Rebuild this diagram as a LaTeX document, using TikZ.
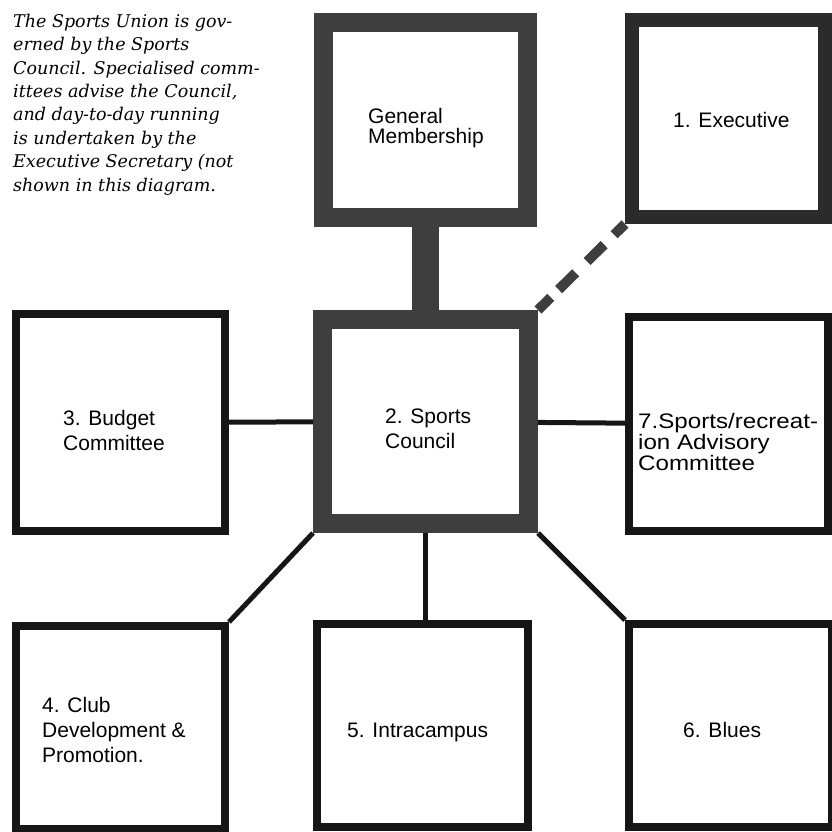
\documentclass[tikz,border=0pt]{standalone}
\usepackage{fontspec}
\usepackage{tikz}
\usepackage{xcolor}
\usetikzlibrary{positioning, calc}
\newfontfamily\boxfont{Liberation Sans}
\newfontfamily\widefont[FakeStretch=1.15]{Liberation Sans}
\newfontfamily\notefont{DejaVu Serif}
\definecolor{cInk}{RGB}{22,22,22}
\definecolor{cGrit}{RGB}{62,62,62}
\tikzset{
	unit/.style   ={rectangle, draw=cInk, line width=8pt, inner sep=0pt},
	heavy/.style  ={unit, draw=cGrit, line width=19pt},
	execbox/.style={unit, draw=cGrit!70!black, line width=14pt},
	txt/.style    ={anchor=base west, inner sep=0pt, align=left, font=\boxfont\fontsize{21}{25}\selectfont},
	tight/.style  ={font=\boxfont\fontsize{21}{20}\selectfont},
	link/.style   ={draw=cInk, line width=5pt},
	trunk/.style  ={draw=cGrit, line width=27pt},
	gap/.style    ={draw=cGrit, line width=10pt, dash pattern=on 18pt off 11pt on 24pt off 16pt on 24pt off 14pt on 20pt},
}

\begin{document}
\begin{tikzpicture}[x=1pt, y=-1pt]
	\useasboundingbox (0,0) rectangle (832,831);
	% note (base = last line)
	\node[anchor=base west, inner sep=0pt, align=left, font=\notefont\itshape\fontsize{17.5}{23.4}\selectfont] (note) at (13,191)
		{The Sports Union is gov-\\erned by the Sports\\Council. Specialised comm-\\ittees advise the Council,\\and day-to-day running\\is undertaken by the\\Executive Secretary (not\\shown in this diagram.};
	% top row
	\node[heavy, minimum width=204pt, minimum height=195pt] (gm) at (425.5,120) {};
	\node[execbox, minimum width=193pt, minimum height=197pt] (ex) at (728.5,118.5) {};
	\node[txt, tight] (gmtxt) at (368,143) {General\\Membership};
	\node[txt] (extxt) at (673,127) {1. Executive};
	% middle row
	\node[unit, minimum width=209pt, minimum height=217pt] (bud) at (120.5,422.5) {};
	\node[heavy, minimum width=206pt, minimum height=204pt] (sc) at (425.5,421.5) {};
	\node[unit, minimum width=199pt, minimum height=214pt] (adv) at (728.5,424) {};
	\node[txt] (budtxt) at (63,450) {3. Budget\\Committee};
	\node[txt] (sctxt) at (385,448) {2. Sports\\Council};
	\node[txt, font=\widefont\fontsize{21}{19}\selectfont] (advtxt) at (638,470) {7.Sports/recreat-\\ion Advisory\\Committee};
	% bottom row
	\node[unit, minimum width=209pt, minimum height=203pt] (club) at (120.5,727.5) {};
	\node[unit, minimum width=211pt, minimum height=203pt] (intra) at (422.5,725.5) {};
	\node[unit, minimum width=203pt, minimum height=203pt] (blues) at (730.5,725.5) {};
	\node[txt] (clubtxt) at (42,762) {4. Club\\Development \&\\Promotion.};
	\node[txt] (inttxt) at (347,737) {5. Intracampus};
	\node[txt] (bluetxt) at (683,737) {6. Blues};
	% connectors
	\draw[trunk] (gm) -- (sc);
	\draw[gap] (sc.north east) -- (ex.south west);
	\draw[link] (bud) -- (sc);
	\draw[link] (sc) -- (adv);
	\draw[link] (sc.south west) -- (club.north east);
	\draw[link] (sc.south) -- (intra.north -| sc.south);
	\draw[link] (sc.south east) -- (blues.north west);
\end{tikzpicture}
\end{document}
